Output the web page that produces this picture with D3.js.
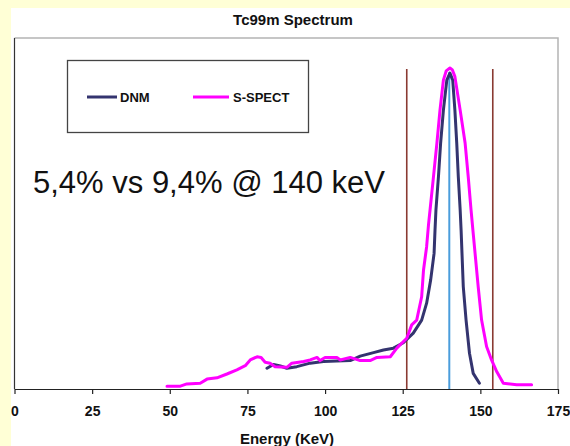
<!DOCTYPE html>
<html>
<head>
<meta charset="utf-8">
<script src="https://cdn.jsdelivr.net/npm/d3@7"></script>
<style>
  body { margin: 0; background: #ffffd6; }
  svg { display: block; font-family: Arial, 'Liberation Sans', sans-serif; }
</style>
</head>
<body>
<svg width="570" height="446"></svg>
<script>
// energy (keV) and relative counts
const dnmEnergy = [81.3, 83.4, 85.6, 87.7, 90.9, 95.2, 99.5, 103.8, 108.1, 111.3, 115.6, 118.8, 122, 125.2,
  128.4, 131.1, 132.7, 134, 135.1, 135.4, 135.7, 136.5, 137.2, 138.1, 139.2, 140.2, 141.1, 141.8, 142.4,
  142.9, 143.5, 143.8, 144.5, 145.4, 146.5, 147.7, 149.7];
const dnmCounts = [6.5, 7.7, 7.2, 6.5, 7.0, 8.1, 8.6, 8.8, 8.9, 10.3, 11.4, 12.2, 12.8, 14.5,
  17.5, 21.6, 26.9, 34.2, 42.5, 49.8, 56.1, 66.5, 77, 87.4, 96.8, 99, 96.8, 87.4, 77,
  66.5, 56.1, 49.8, 32.1, 21.6, 11.2, 4.9, 1.8];

const sspectEnergy = [49.1, 53.4, 55.5, 59.8, 62, 65.2, 68.4, 71.6, 74.3, 75.9, 78.1, 79.4, 80.7, 82.3,
  83.9, 87.7, 89.3, 93.1, 95.2, 97.4, 98.4, 100, 103.8, 104.9, 108.1, 111.3, 114.5, 116.7, 121, 123.1,
  126.3, 127.9, 129.5, 131.1, 131.7, 132.7, 133.3, 133.8, 134.9, 136, 137, 138.1, 139, 140.2, 141,
  141.8, 143.5, 145.1, 146.1, 147, 147.6, 148.3, 149.3, 150.4, 152, 153.6, 155.3, 157.4, 161.7, 166.5];
const sspectCounts = [0.9, 0.9, 1.6, 1.8, 3.1, 3.5, 4.7, 6.0, 7.3, 9.1, 10.1, 9.9, 8.4, 8.1,
  7.0, 6.8, 8.1, 8.6, 9.1, 9.9, 8.9, 9.9, 9.9, 9.1, 9.9, 8.9, 8.9, 9.9, 10.1, 12.8,
  15.9, 20.1, 21.6, 28.9, 37.3, 44.6, 51.4, 56.1, 66.5, 77, 87.4, 96.8, 99.7, 100.6, 100,
  97.9, 87.4, 77, 66.5, 56.1, 49.8, 42.5, 32.1, 21.6, 13.3, 9.1, 5.4, 1.8, 1.3, 1.3];

// energy window markers and photopeak
const windowEdges = [126.3, 154];
const photopeak = 140;
const markerTop = 100.3;
const peakTop = 99.3;

const xTicks = [0, 25, 50, 75, 100, 125, 150, 175];
const legendNames = ['DNM', 'S-SPECT'];
const colors = ['#34346f', '#ff00ff'];

const svg = d3.select('svg');

// white chart panel on the yellow slide
svg.append('rect')
  .attr('x', 11)
  .attr('y', 8)
  .attr('width', 559)
  .attr('height', 438)
  .attr('fill', '#ffffff');

const plot = { left: 14.5, top: 38, right: 558, bottom: 389 };

const x = d3.scaleLinear().domain([0, 175]).range([plot.left, plot.right]);
const y = d3.scaleLinear().domain([0, 110]).range([plot.bottom, plot.top]);

// plot frame (grey top/right)
svg.append('path')
  .attr('d', `M${plot.left},${plot.top}H${plot.right}V${plot.bottom}`)
  .attr('fill', 'none')
  .attr('stroke', '#b4b4b4')
  .attr('stroke-width', 1.5);

svg.append('line')
  .attr('x1', plot.left)
  .attr('x2', plot.left)
  .attr('y1', plot.top)
  .attr('y2', plot.bottom)
  .attr('stroke', '#333')
  .attr('stroke-width', 1.2);

// x axis
const xAxis = svg.append('g')
  .attr('transform', `translate(0,${plot.bottom})`)
  .call(d3.axisBottom(x).tickValues(xTicks).tickSize(5).tickSizeOuter(0).tickPadding(12));

xAxis.select('.domain').attr('stroke', '#222').attr('stroke-width', 1.2);
xAxis.selectAll('.tick line').attr('stroke', '#222').attr('stroke-width', 1.2);
xAxis.selectAll('.tick text')
  .attr('fill', '#111')
  .attr('font-size', 14)
  .attr('font-weight', 'bold')
  .attr('font-family', 'Arial, Liberation Sans, sans-serif');

svg.append('text')
  .attr('x', 287)
  .attr('y', 444)
  .attr('text-anchor', 'middle')
  .attr('font-size', 15)
  .attr('font-weight', 'bold')
  .attr('fill', '#111')
  .text('Energy (KeV)');

svg.append('text')
  .attr('x', 293)
  .attr('y', 25)
  .attr('text-anchor', 'middle')
  .attr('font-size', 15)
  .attr('font-weight', 'bold')
  .attr('fill', '#111')
  .text('Tc99m Spectrum');

// window edges and photopeak marker
svg.append('g')
  .selectAll('line')
  .data(windowEdges)
  .enter()
  .append('line')
  .attr('x1', (d) => x(d))
  .attr('x2', (d) => x(d))
  .attr('y1', y(0))
  .attr('y2', y(markerTop))
  .attr('stroke', '#8a3a32')
  .attr('stroke-width', 1.6);

svg.append('line')
  .attr('x1', x(photopeak))
  .attr('x2', x(photopeak))
  .attr('y1', y(0))
  .attr('y2', y(peakTop))
  .attr('stroke', '#4a9ddc')
  .attr('stroke-width', 2);

// spectra
const line = d3.line()
  .x((d) => x(d[0]))
  .y((d) => y(d[1]));

const series = [
  d3.zip(dnmEnergy, dnmCounts),
  d3.zip(sspectEnergy, sspectCounts),
];

svg.append('g')
  .selectAll('path')
  .data(series)
  .enter()
  .append('path')
  .attr('d', line)
  .attr('fill', 'none')
  .attr('stroke', (d, i) => colors[i])
  .attr('stroke-width', 3)
  .attr('stroke-linejoin', 'round')
  .attr('stroke-linecap', 'round');

// legend
svg.append('rect')
  .attr('x', 67.5)
  .attr('y', 60.5)
  .attr('width', 241)
  .attr('height', 72)
  .attr('fill', '#fff')
  .attr('stroke', '#444')
  .attr('stroke-width', 1.3);

const legendX = [87, 193];
const item = svg.append('g')
  .selectAll('g')
  .data(legendNames)
  .enter()
  .append('g')
  .attr('transform', (d, i) => `translate(${legendX[i]},97)`);

item.append('line')
  .attr('x2', (d, i) => (i === 0 ? 30 : 36))
  .attr('stroke', (d, i) => colors[i])
  .attr('stroke-width', 3);

item.append('text')
  .text((d) => d)
  .attr('x', (d, i) => (i === 0 ? 33 : 40))
  .attr('y', 5)
  .attr('font-size', 13)
  .attr('font-weight', 'bold')
  .attr('fill', '#111');

// resolution note
svg.append('text')
  .attr('x', 33)
  .attr('y', 193)
  .attr('font-size', 31)
  .attr('fill', '#111')
  .text('5,4% vs 9,4% @ 140 keV');
</script>
</body>
</html>
